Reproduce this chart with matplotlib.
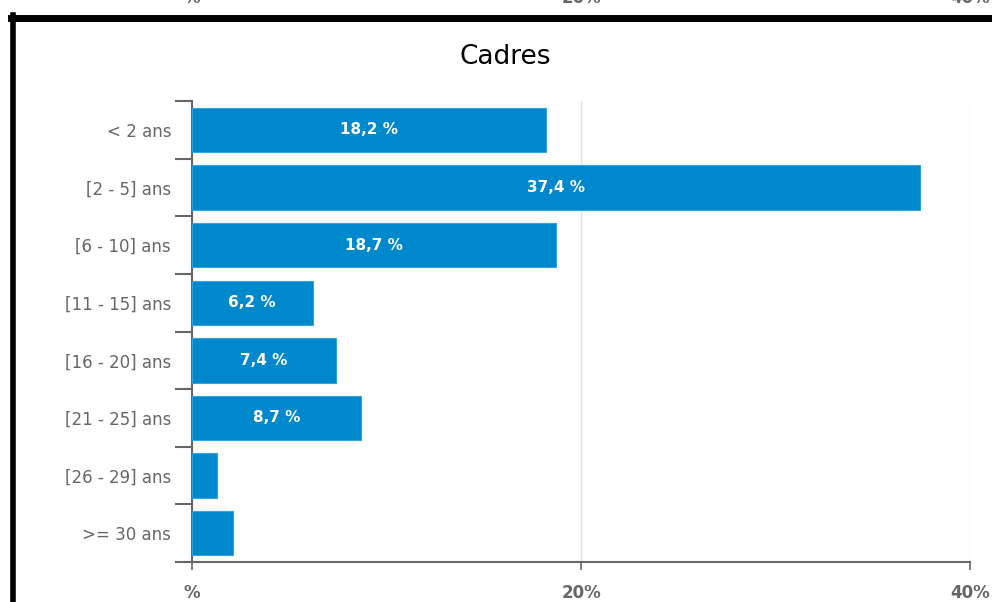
import numpy as np
import matplotlib.pyplot as plt

# Données
categories = ["< 2 ans", "[2 - 5] ans", "[6 - 10] ans", "[11 - 15] ans",
              "[16 - 20] ans", "[21 - 25] ans", "[26 - 29] ans", ">= 30 ans"]
valeurs = [18.2, 37.4, 18.7, 6.2, 7.4, 8.7, 1.3, 2.1]
etiquettes = ["18,2 %", "37,4 %", "18,7 %", "6,2 %", "7,4 %", "8,7 %", "", ""]
ticks_x = [0, 20, 40]
ticks_x_labels = ["%", "20%", "40%"]

bleu = "#0088cc"
gris = "#666666"

fig = plt.figure(figsize=(9.92, 6.02), dpi=100)
ax = fig.add_axes([0.1935, 0.0664, 0.7845, 0.7658])

y = np.arange(len(categories))
ax.barh(y, valeurs, height=0.77, color=bleu, edgecolor="#33a3dd", linewidth=0.8, zorder=3)
for yi, v, lab in zip(y, valeurs, etiquettes):
    if lab:
        ax.text(v / 2, yi, lab, color="white", fontsize=11, fontweight="bold",
                ha="center", va="center", zorder=4)

ax.set_xlim(0, 40)
ax.set_ylim(len(categories) - 0.5, -0.5)
ax.set_yticks(y)
ax.set_yticklabels(categories, fontsize=12, color=gris)
ax.set_yticks(np.arange(-0.5, len(categories), 1), minor=True)
ax.tick_params(axis="y", which="major", length=0, pad=15)
ax.tick_params(axis="y", which="minor", length=12, width=1.5, color=gris)
ax.set_xticks(ticks_x)
ax.set_xticklabels(ticks_x_labels, fontsize=12, color=gris, fontweight="bold")
ax.tick_params(axis="x", length=6, width=1.2, color=gris, pad=10)
ax.grid(axis="x", color="#e0e0e0", linewidth=1, zorder=0)
for s in ["top", "right"]:
    ax.spines[s].set_visible(False)
for s in ["left", "bottom"]:
    ax.spines[s].set_color(gris)
    ax.spines[s].set_linewidth(1.5)

fig.text(0.509, 0.905, "Cadres", fontsize=19, ha="center", va="center", color="black",
         fontweight="medium")

# Bordures noires et restes du graphique précédent
fig.add_artist(plt.Line2D([0.0131, 0.0131], [0, 0.975], color="black", linewidth=4))
fig.add_artist(plt.Line2D([0.011, 1], [0.97, 0.97], color="black", linewidth=5))
for x, lab in zip([0.1935, 0.586, 0.978], ticks_x_labels):
    fig.text(x, 1.003, lab, fontsize=12, color=gris, fontweight="bold", ha="center", va="center")

plt.savefig("out.png", dpi=100)
